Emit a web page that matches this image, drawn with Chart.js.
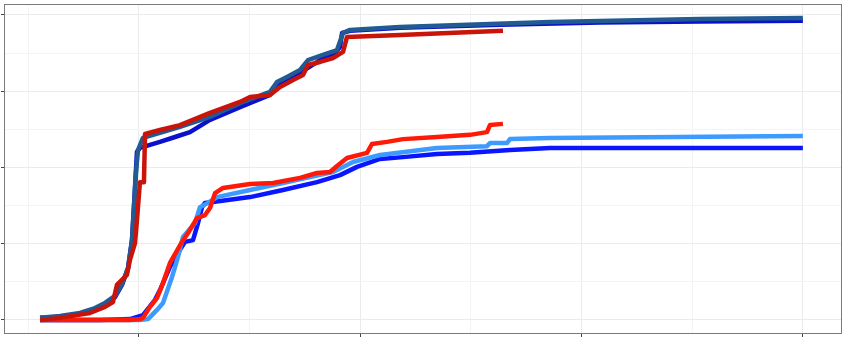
<!DOCTYPE html>
<html>
<head>
<meta charset="utf-8">
<script src="https://cdn.jsdelivr.net/npm/chart.js@4"></script>
<style>
  body { margin: 0; background: #fff; }
  #wrap { width: 844px; height: 338px; }
</style>
</head>
<body>
<div id="wrap"><canvas id="myChart"></canvas></div>
<script>
// [x, y] pairs
const upperBlue = [[13.82,0.007],[16.08,0.010],[18.33,0.020],[20.03,0.036],[21.16,0.052],[22.29,0.075],[23.08,0.115],[23.76,0.170],[24.21,0.262],[24.44,0.377],[24.66,0.492],[24.77,0.551],[25.11,0.564],[26.24,0.574],[27.37,0.584],[29.07,0.600],[30.76,0.616],[33.02,0.656],[36.41,0.698],[39.80,0.738],[40.93,0.777],[43.19,0.810],[45.45,0.852],[47.14,0.875],[47.71,0.895],[47.94,0.941],[48.84,0.948],[54.48,0.958],[65.78,0.968],[77.08,0.975],[88.38,0.979],[100,0.981]]
const upperSteel = [[13.82,0.007],[16.08,0.013],[18.33,0.023],[20.03,0.039],[21.16,0.056],[22.29,0.079],[23.08,0.118],[23.76,0.170],[24.21,0.262],[24.44,0.377],[24.66,0.485],[24.89,0.557],[25.34,0.590],[25.45,0.597],[29.63,0.633],[33.02,0.666],[36.41,0.711],[39.80,0.748],[40.59,0.780],[41.72,0.797],[43.19,0.820],[44.09,0.852],[45.79,0.869],[47.37,0.885],[48.05,0.941],[48.84,0.951],[54.48,0.961],[71.43,0.977],[88.38,0.987],[100,0.990]]
const upperRed = [[13.82,0.0],[16.08,0.007],[19.46,0.023],[21.16,0.043],[22.06,0.059],[22.51,0.115],[23.64,0.148],[23.98,0.197],[24.55,0.252],[24.77,0.328],[25.11,0.452],[25.56,0.452],[25.68,0.610],[27.37,0.623],[29.63,0.639],[33.02,0.679],[36.41,0.715],[37.54,0.731],[39.80,0.738],[40.93,0.764],[42.40,0.787],[43.53,0.803],[44.09,0.836],[45.45,0.846],[46.92,0.859],[48.05,0.879],[48.50,0.928],[54.48,0.934],[66.12,0.948]]
const lowerBlue = [[13.82,0.0],[20.59,0.0],[23.98,0.003],[25.45,0.016],[26.81,0.066],[27.37,0.098],[28.50,0.174],[29.63,0.230],[30.20,0.256],[31.10,0.262],[31.67,0.318],[32.12,0.370],[32.46,0.384],[33.36,0.387],[37.54,0.403],[41.27,0.426],[45.11,0.452],[47.71,0.475],[49.63,0.502],[52.23,0.528],[54.82,0.534],[58.66,0.544],[62.39,0.548],[66.91,0.557],[71.43,0.564],[100,0.564]]
const lowerLight = [[13.82,0.0],[25.11,0.0],[26.02,0.003],[27.03,0.033],[27.71,0.056],[28.73,0.141],[29.41,0.207],[29.97,0.272],[31.33,0.318],[31.89,0.370],[32.79,0.384],[33.81,0.403],[37.54,0.426],[41.27,0.449],[44.32,0.469],[46.92,0.485],[49.18,0.518],[52.23,0.541],[58.66,0.564],[64.31,0.570],[64.65,0.580],[66.57,0.580],[66.91,0.593],[71.43,0.597],[100,0.603]]
const lowerRed = [[13.82,0.0],[23.98,0.0],[25.11,0.003],[25.45,0.007],[26.24,0.043],[27.03,0.072],[27.71,0.121],[28.50,0.187],[29.86,0.256],[30.54,0.285],[31.55,0.334],[32.46,0.344],[33.02,0.367],[33.59,0.416],[34.49,0.433],[37.54,0.446],[40.14,0.449],[43.19,0.466],[45.11,0.482],[46.58,0.485],[47.37,0.505],[48.50,0.531],[50.76,0.548],[51.32,0.577],[53.02,0.584],[54.82,0.593],[58.66,0.600],[62.39,0.607],[64.31,0.616],[64.65,0.639],[66.12,0.643]]

const xBreaks = [25, 50, 75, 100]
const yBreaks = [0, 0.25, 0.5, 0.75, 1]

const toPts = arr => arr.map(p => ({x: p[0], y: p[1]}))

// major + minor (midpoint) grid values
const xGrid = [12.5]
xBreaks.forEach(v => { xGrid.push(v); xGrid.push(v + 12.5) })
const yGrid = []
yBreaks.forEach((v, i) => { yGrid.push(v); if (i < yBreaks.length - 1) yGrid.push(v + 0.125) })

const isMajor = (v, list) => list.some(b => Math.abs(b - v) < 1e-6)

const line = (data, color) => ({
    data: toPts(data),
    borderColor: color,
    borderWidth: 4.5,
    pointRadius: 0,
    tension: 0,
    fill: false,
    borderJoinStyle: 'round',
    borderCapStyle: 'butt'
})

const panelBorder = {
    id: 'panelBorder',
    afterDraw(chart) {
        const {ctx, chartArea: a} = chart
        ctx.save()
        ctx.strokeStyle = '#7a7a7a'
        ctx.lineWidth = 1
        ctx.strokeRect(a.left + 0.5, a.top + 0.5, a.right - a.left - 1, a.bottom - a.top - 1)
        ctx.restore()
    }
}

const myChart = document.querySelector('#myChart').getContext('2d')

new Chart(myChart, {
    type: 'line',
    data: {
        datasets: [
            line(upperRed, '#c9140a'),
            line(upperSteel, '#225a93'),
            line(upperBlue, '#0a10cc'),
            line(lowerRed, '#ff1a08'),
            line(lowerLight, '#3d9bff'),
            line(lowerBlue, '#0a16ff')
        ]
    },
    options: {
        responsive: true,
        maintainAspectRatio: false,
        animation: false,
        layout: { padding: { top: 4, right: 2, left: 0, bottom: 0 } },
        plugins: { legend: { display: false }, tooltip: { enabled: false } },
        scales: {
            x: {
                type: 'linear',
                min: 9.75,
                max: 104.42,
                afterBuildTicks: s => { s.ticks = xGrid.map(v => ({value: v})) },
                afterFit: s => { s.height = 4 },
                ticks: { display: false },
                border: { display: false },
                grid: {
                    color: c => isMajor(c.tick.value, xBreaks) ? '#ebebeb' : '#f4f4f4',
                    lineWidth: 1,
                    tickColor: c => isMajor(c.tick.value, xBreaks) ? '#444' : 'rgba(0,0,0,0)',
                    tickLength: 3
                }
            },
            y: {
                type: 'linear',
                min: -0.0459,
                max: 1.036,
                afterBuildTicks: s => { s.ticks = yGrid.map(v => ({value: v})) },
                afterFit: s => { s.width = 4 },
                ticks: { display: false },
                border: { display: false },
                grid: {
                    color: c => isMajor(c.tick.value, yBreaks) ? '#ebebeb' : '#f4f4f4',
                    lineWidth: 1,
                    tickColor: c => isMajor(c.tick.value, yBreaks) ? '#444' : 'rgba(0,0,0,0)',
                    tickLength: 3
                }
            }
        }
    },
    plugins: [panelBorder]
})
</script>
</body>
</html>
